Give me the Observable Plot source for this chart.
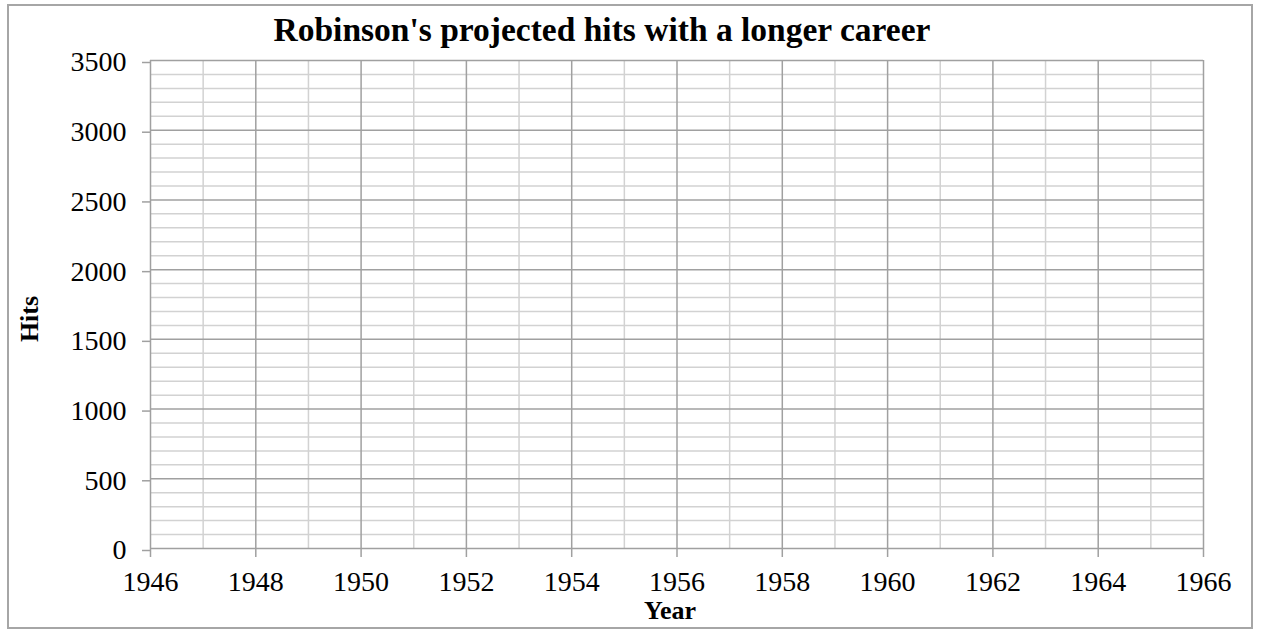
<!DOCTYPE html>
<html>
<head>
<meta charset="utf-8">
<script src="https://cdn.jsdelivr.net/npm/d3@7"></script>
<script src="https://cdn.jsdelivr.net/npm/@observablehq/plot@0.6"></script>
<style>
  body { margin: 0; background: #fff; }
  #wrap { position: relative; width: 1261px; height: 629px; overflow: hidden; font-family: "Liberation Serif", serif; color: #000; }
  #frame { position: absolute; left: 7px; top: 4px; width: 1246px; height: 625px; border: 2px solid #a6a6a6; box-sizing: border-box; }
  #chart { position: absolute; left: 0; top: 0; }
  .lbl { position: absolute; font-weight: bold; line-height: 1; white-space: nowrap; }
  #title { left: 0; width: 1204px; top: 13px; text-align: center; font-size: 33.5px; }
  #xlabel { left: 0; width: 1340px; top: 601px; height: 20px; line-height: 20px; text-align: center; font-size: 26px; }
  #ylabel { left: 30px; top: 319px; font-size: 26px; transform: translate(-50%, -50%) rotate(-90deg); }
</style>
</head>
<body>
<div id="wrap">
  <div id="frame"></div>
  <div id="chart"></div>
  <div class="lbl" id="title"></div>
  <div class="lbl" id="xlabel"></div>
  <div class="lbl" id="ylabel"></div>
</div>
<script>
// ---- Data ----
const titleText = "Robinson's projected hits with a longer career";
const xLabelText = "Year";
const yLabelText = "Hits";
const xDomain = [1946, 1966];
const yDomain = [0, 3500];
const xMajorTicks = [1946, 1948, 1950, 1952, 1954, 1956, 1958, 1960, 1962, 1964, 1966];
const xMinorTicks = [1947, 1949, 1951, 1953, 1955, 1957, 1959, 1961, 1963, 1965];
const yMajorTicks = [0, 500, 1000, 1500, 2000, 2500, 3000, 3500];
const yMinorTicks = [100, 200, 300, 400, 600, 700, 800, 900, 1100, 1200, 1300, 1400,
  1600, 1700, 1800, 1900, 2100, 2200, 2300, 2400, 2600, 2700, 2800, 2900,
  3100, 3200, 3300, 3400];
// The reference chart shows no plotted series (empty chart)
const years = [];
const hits = [];

const series = years.map((y, i) => ({year: y, hits: hits[i]}));

document.getElementById("title").textContent = titleText;
document.getElementById("xlabel").textContent = xLabelText;
document.getElementById("ylabel").textContent = yLabelText;

const majorColor = "#a0a0a0";
const minorColor = "#d2d2d2";

const chart = Plot.plot({
  width: 1261,
  height: 629,
  marginLeft: 150,
  marginRight: 58,
  marginTop: 60,
  marginBottom: 81,
  x: {domain: xDomain},
  y: {domain: yDomain},
  style: {fontFamily: "'Liberation Serif', serif", fontSize: "28px", color: "#000", background: "transparent"},
  marks: [
    Plot.gridY(yMinorTicks, {stroke: minorColor, strokeOpacity: 1, strokeWidth: 1.5}),
    Plot.gridX(xMinorTicks, {stroke: minorColor, strokeOpacity: 1, strokeWidth: 1.5}),
    Plot.gridY(yMajorTicks, {stroke: majorColor, strokeOpacity: 1, strokeWidth: 1.5}),
    Plot.gridX(xMajorTicks, {stroke: majorColor, strokeOpacity: 1, strokeWidth: 1.5}),
    Plot.axisY(yMajorTicks, {tickSize: 8, tickPadding: 16, stroke: majorColor, strokeWidth: 1.5, fill: "#000", label: null, tickFormat: d => String(d), dy: 2}),
    Plot.axisX(xMajorTicks, {tickSize: 9, tickPadding: 14, stroke: majorColor, strokeWidth: 1.5, fill: "#000", label: null, tickFormat: d => String(d)}),
    Plot.lineY(series, {x: "year", y: "hits", stroke: "#4472c4", strokeWidth: 2})
  ]
});
document.getElementById("chart").appendChild(chart);
</script>
</body>
</html>
